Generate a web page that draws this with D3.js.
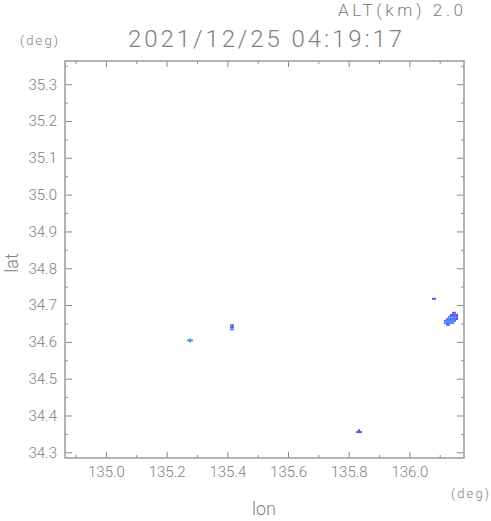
<!DOCTYPE html>
<html><head><meta charset="utf-8">
<script src="https://cdn.jsdelivr.net/npm/d3@7"></script>
<style>
html,body{margin:0;padding:0;background:#fff;}
svg text{font-family:Roboto,"DejaVu Sans",sans-serif;font-weight:300;fill:#808080;}
</style></head>
<body><svg id="c" width="491" height="521"></svg>
<script>
// ---- data ----
const titleText = "2021/12/25 04:19:17";
const altText = "ALT(km) 2.0";
const xMajorTicks = [135.0, 135.2, 135.4, 135.6, 135.8, 136.0];
const xMinorTicks = [134.9, 135.1, 135.3, 135.5, 135.7, 135.9, 136.1];
const yMajorTicks = [34.3, 34.4, 34.5, 34.6, 34.7, 34.8, 34.9, 35.0, 35.1, 35.2, 35.3];
const yMinorTicks = [34.35, 34.45, 34.55, 34.65, 34.75, 34.85, 34.95, 35.05, 35.15, 35.25, 35.35];
const xDomain = [134.865, 136.18];
const yDomain = [34.2845, 35.363];
const cellDLon = 0.0066, cellDLat = 0.0054;
// echo cells: lon, lat, intensity class
const cellLon = [
  135.277, 135.277, 135.271, 135.283,
  135.412, 135.418, 135.412, 135.418, 135.412, 135.418,
  135.828, 135.834, 135.840, 135.834,
  136.078, 136.084,
  136.144, 136.150,
  136.137, 136.144, 136.150, 136.157,
  136.130, 136.137, 136.144, 136.150, 136.157,
  136.124, 136.130, 136.137, 136.144, 136.150, 136.157,
  136.117, 136.124, 136.130, 136.137, 136.144, 136.150,
  136.117, 136.124, 136.130, 136.137, 136.144,
  136.124, 136.130
];
const cellLat = [
  34.606, 34.601, 34.604, 34.604,
  34.645, 34.645, 34.640, 34.640, 34.634, 34.634,
  34.355, 34.355, 34.355, 34.360,
  34.717, 34.717,
  34.679, 34.679,
  34.673, 34.673, 34.673, 34.673,
  34.668, 34.668, 34.668, 34.668, 34.668,
  34.662, 34.662, 34.662, 34.662, 34.662, 34.662,
  34.657, 34.657, 34.657, 34.657, 34.657, 34.657,
  34.651, 34.651, 34.651, 34.651, 34.651,
  34.646, 34.646
];
const cellVal = [
  3, 3, 3, 3,
  3, 1, 2, 1, 3, 2,
  1, 1, 1, 1,
  1, 1,
  1, 1,
  1, 1, 1, 1,
  2, 2, 2, 2, 1,
  2, 2, 2, 2, 2, 1,
  2, 2, 2, 2, 2, 2,
  2, 2, 2, 2, 2,
  2, 2
];
const palette = {1: "#5050f5", 2: "#4a78ff", 3: "#3a8ef5"};

// ---- drawing ----
const svg = d3.select("#c");
const L = 65, R = 464, T = 61, B = 458;
const x = d3.scaleLinear().domain(xDomain).range([L, R]);
const y = d3.scaleLinear().domain(yDomain).range([B, T]);

const cells = cellLon.map((lon, i) => ({lon, lat: cellLat[i], v: cellVal[i]}));
svg.append("g").selectAll("rect").data(cells).join("rect")
  .attr("x", d => x(d.lon - cellDLon / 2))
  .attr("y", d => y(d.lat + cellDLat / 2))
  .attr("width", d => x(d.lon + cellDLon / 2) - x(d.lon - cellDLon / 2))
  .attr("height", d => y(d.lat - cellDLat / 2) - y(d.lat + cellDLat / 2))
  .attr("fill", d => palette[d.v]);

function styleAxis(g) {
  g.select(".domain").remove();
  g.selectAll(".tick line").attr("stroke", "#8a8a8a").attr("stroke-width", 1);
  g.selectAll(".tick text").attr("font-size", 15).attr("fill", "#808080")
    .style("font-family", "Roboto, 'DejaVu Sans', sans-serif");
}
const fmt = d3.format(".1f");
// bottom
svg.append("g").attr("transform", `translate(0,${B})`)
  .call(d3.axisBottom(x).tickValues(xMajorTicks).tickFormat(fmt).tickSizeInner(-6).tickSizeOuter(0).tickPadding(8))
  .call(styleAxis);
svg.append("g").attr("transform", `translate(0,${B})`)
  .call(d3.axisBottom(x).tickValues(xMinorTicks).tickFormat("").tickSizeInner(-3).tickSizeOuter(0))
  .call(styleAxis);
// top
svg.append("g").attr("transform", `translate(0,${T})`)
  .call(d3.axisTop(x).tickValues(xMajorTicks).tickFormat("").tickSizeInner(-6).tickSizeOuter(0))
  .call(styleAxis);
svg.append("g").attr("transform", `translate(0,${T})`)
  .call(d3.axisTop(x).tickValues(xMinorTicks).tickFormat("").tickSizeInner(-3).tickSizeOuter(0))
  .call(styleAxis);
// left
svg.append("g").attr("transform", `translate(${L},0)`)
  .call(d3.axisLeft(y).tickValues(yMajorTicks).tickFormat(fmt).tickSizeInner(-7).tickSizeOuter(0).tickPadding(8))
  .call(styleAxis);
svg.append("g").attr("transform", `translate(${L},0)`)
  .call(d3.axisLeft(y).tickValues(yMinorTicks).tickFormat("").tickSizeInner(-3).tickSizeOuter(0))
  .call(styleAxis);
// right
svg.append("g").attr("transform", `translate(${R},0)`)
  .call(d3.axisRight(y).tickValues(yMajorTicks).tickFormat("").tickSizeInner(-7).tickSizeOuter(0))
  .call(styleAxis);
svg.append("g").attr("transform", `translate(${R},0)`)
  .call(d3.axisRight(y).tickValues(yMinorTicks).tickFormat("").tickSizeInner(-3).tickSizeOuter(0))
  .call(styleAxis);

// frame
svg.append("rect").attr("x", L).attr("y", T).attr("width", R - L).attr("height", B - T)
  .attr("fill", "none").attr("stroke", "#a0a0a0").attr("stroke-width", 1.6);

// texts
svg.append("text").attr("x", 128).attr("y", 47).attr("font-size", 24)
  .attr("textLength", 274).attr("lengthAdjust", "spacing").text(titleText);
svg.append("text").attr("x", 338).attr("y", 16).attr("font-size", 17)
  .attr("textLength", 125).attr("lengthAdjust", "spacing").text(altText);
svg.append("text").attr("x", 20).attr("y", 45).attr("font-size", 13)
  .attr("textLength", 38).attr("lengthAdjust", "spacing").text("(deg)");
svg.append("text").attr("x", 451).attr("y", 498).attr("font-size", 13)
  .attr("textLength", 38).attr("lengthAdjust", "spacing").text("(deg)");
svg.append("text").attr("x", 264).attr("y", 515).attr("font-size", 18).attr("text-anchor", "middle").text("lon");
svg.append("text").attr("transform", "translate(18,263) rotate(-90)").attr("font-size", 18)
  .attr("text-anchor", "middle").text("lat");
</script></body></html>
